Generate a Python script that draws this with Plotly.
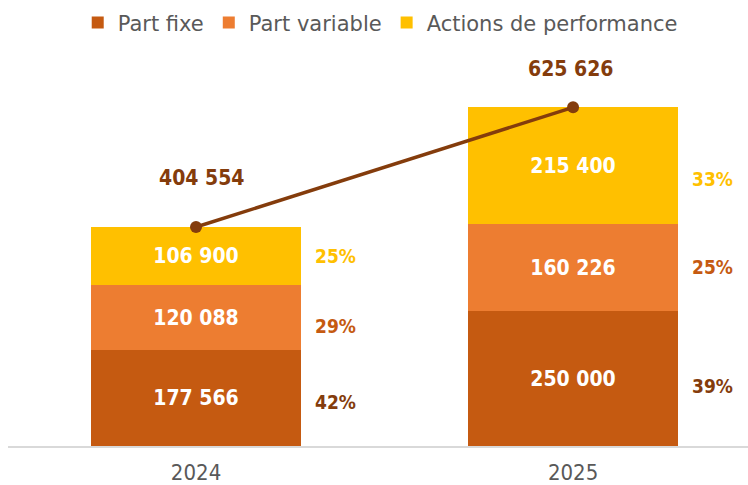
import plotly.graph_objects as go

years = ["2024", "2025"]
part_fixe = [177566, 250000]
part_variable = [120088, 160226]
actions_perf = [106900, 215400]
totals = [404554, 625626]
pct_fixe = ["42%", "39%"]
pct_variable = ["29%", "25%"]
pct_actions = ["25%", "33%"]

C_FIXE = "#C55A11"
C_VAR = "#ED7D31"
C_ACT = "#FFC000"
C_LINE = "#843C0C"
NUM_FONT = "Liberation Sans Narrow, DejaVu Sans Condensed, sans-serif"

xs = [0, 1]

def fmt(v):
    return f"{v:,}".replace(",", " ")

fig = go.Figure()
for name, vals, col in [("Part fixe", part_fixe, C_FIXE),
                        ("Part variable", part_variable, C_VAR),
                        ("Actions de performance", actions_perf, C_ACT)]:
    fig.add_trace(go.Bar(
        x=xs, y=vals, name=name, marker=dict(color=col, line=dict(width=0)),
        width=0.555, text=[fmt(v) for v in vals], textposition="inside",
        insidetextanchor="middle",
        textfont=dict(family=NUM_FONT, size=21, color="white", weight="bold"),
        hoverinfo="skip",
    ))

fig.add_trace(go.Scatter(
    x=xs, y=totals, mode="lines+markers", showlegend=False,
    line=dict(color=C_LINE, width=3.5), marker=dict(color=C_LINE, size=12),
    hoverinfo="skip",
))

ann = []
for i, x in enumerate(xs):
    ann.append(dict(x=x, y=totals[i], text=fmt(totals[i]), showarrow=False,
                    yshift=[49, 38][i], xshift=[5, -3][i],
                    font=dict(family=NUM_FONT, size=21, color=C_LINE, weight="bold")))
    b0 = part_fixe[i]
    b1 = b0 + part_variable[i]
    b2 = b1 + actions_perf[i]
    for yv, txt, col, ys in [(b0 / 2, pct_fixe[i], C_LINE, [-4, -8][i]),
                             ((b0 + b1) / 2, pct_variable[i], C_FIXE, [-9, 0][i]),
                             ((b1 + b2) / 2, pct_actions[i], C_ACT, [0, -13][i])]:
        ann.append(dict(x=x + 0.37, y=yv, text=txt, showarrow=False, yshift=ys,
                        font=dict(family=NUM_FONT, size=19, color=col, weight="bold")))

fig.update_layout(
    width=748, height=485,
    margin=dict(l=8, r=0, t=60, b=39, autoexpand=False),
    barmode="stack", bargap=0,
    plot_bgcolor="white", paper_bgcolor="white",
    showlegend=True,
    legend=dict(orientation="h", x=0.503, xanchor="center", y=1.096, yanchor="middle",
                font=dict(family="DejaVu Sans, sans-serif", size=21, color="#595959"),
                itemwidth=30, traceorder="normal"),
    annotations=ann,
    xaxis=dict(range=[-0.4987, 1.464], tickmode="array", tickvals=xs, ticktext=years,
               showgrid=False, showline=True, linecolor="#D9D9D9", linewidth=2,
               zeroline=False, ticks="", ticklabelstandoff=6,
               tickfont=dict(family=NUM_FONT, size=22, color="#595959")),
    yaxis=dict(range=[0, 713042], visible=False, showgrid=False, zeroline=False),
)

fig.write_html("out.html")
